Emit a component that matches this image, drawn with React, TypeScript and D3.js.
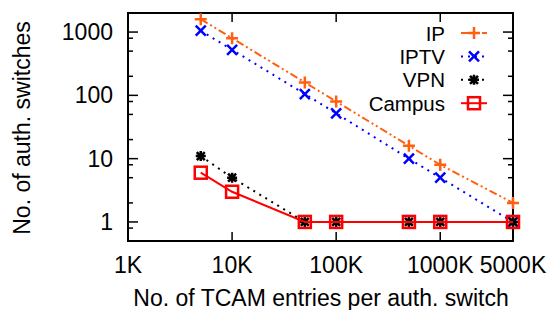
import React, { useEffect, useRef } from "react";
import * as d3 from "d3";

const entries = [5e3, 1e4, 5e4, 1e5, 5e5, 1e6, 5e6];
const ipValues = [1600, 800, 160, 80, 16, 8, 2];
const iptvValues = [1050, 525, 105, 52, 10, 5, 1];
const vpnValues = [11, 5, 1, 1, 1, 1, 1];
const campusValues = [6, 3, 1, 1, 1, 1, 1];
const seriesNames = ["IP", "IPTV", "VPN", "Campus"];
const xTicks = [1e3, 1e4, 1e5, 1e6, 5e6];
const xTickLabels = ["1K", "10K", "100K", "1000K", "5000K"];
const yTicks = [1, 10, 100, 1000];

const App = () => {
  const ref = useRef<SVGSVGElement>(null);

  useEffect(() => {
    const width = 548;
    const height = 310;
    const left = 128;
    const right = 513;
    const top = 13;
    const bottom = 241;
    const font = "'Liberation Sans', Arial, sans-serif";
    const fs = "23px";

    const svg = d3.select(ref.current);
    svg.selectAll("*").remove();
    svg.attr("width", width).attr("height", height);

    const x = d3.scaleLog().domain([1e3, 5e6]).range([left, right]);
    const y = d3.scaleLog().domain([0.5, 2000]).range([bottom, top]);

    const g = svg.append("g");

    // y ticks, major and minor (2, 5, 8), mirrored on the right
    yTicks.forEach((v) => {
      g.append("line").attr("x1", left).attr("x2", left + 10)
        .attr("y1", y(v)).attr("y2", y(v)).attr("stroke", "#000").attr("stroke-width", 1.5);
      g.append("line").attr("x1", right).attr("x2", right - 10)
        .attr("y1", y(v)).attr("y2", y(v)).attr("stroke", "#000").attr("stroke-width", 1.5);
      g.append("text")
        .attr("x", left - 15).attr("y", y(v) + 8)
        .attr("text-anchor", "end")
        .style("font-family", font).style("font-size", fs)
        .text(String(v));
    });
    const minors: number[] = [];
    [0.1, 1, 10, 100, 1000].forEach((d) => [2, 5, 8].forEach((m) => {
      const v = d * m;
      if (v >= 0.5 && v <= 2000) minors.push(v);
    }));
    minors.forEach((v) => {
      g.append("line").attr("x1", left).attr("x2", left + 5)
        .attr("y1", y(v)).attr("y2", y(v)).attr("stroke", "#000").attr("stroke-width", 1.5);
      g.append("line").attr("x1", right).attr("x2", right - 5)
        .attr("y1", y(v)).attr("y2", y(v)).attr("stroke", "#000").attr("stroke-width", 1.5);
    });

    // x ticks, mirrored on top
    xTicks.forEach((v, i) => {
      g.append("line").attr("x1", x(v)).attr("x2", x(v))
        .attr("y1", bottom).attr("y2", bottom - 9).attr("stroke", "#000").attr("stroke-width", 1.5);
      g.append("line").attr("x1", x(v)).attr("x2", x(v))
        .attr("y1", top).attr("y2", top + 9).attr("stroke", "#000").attr("stroke-width", 1.5);
      g.append("text")
        .attr("x", x(v)).attr("y", 273)
        .attr("text-anchor", "middle")
        .style("font-family", font).style("font-size", fs)
        .text(xTickLabels[i]);
    });

    // frame
    g.append("rect")
      .attr("x", left).attr("y", top)
      .attr("width", right - left).attr("height", bottom - top)
      .attr("fill", "none").attr("stroke", "#000").attr("stroke-width", 2);

    // axis titles
    svg.append("text")
      .attr("x", 321).attr("y", 306)
      .attr("text-anchor", "middle")
      .style("font-family", font).style("font-size", fs)
      .text("No. of TCAM entries per auth. switch");
    svg.append("text")
      .attr("transform", `translate(30, 128) rotate(-90)`)
      .attr("text-anchor", "middle")
      .style("font-family", font).style("font-size", fs)
      .text("No. of auth. switches");

    const markers: Record<string, (s: any, cx: number, cy: number, c: string) => void> = {
      plus: (s, cx, cy, c) => {
        s.append("path").attr("d", `M${cx - 6},${cy}H${cx + 6}M${cx},${cy - 6}V${cy + 6}`)
          .attr("stroke", c).attr("stroke-width", 2.5).attr("fill", "none");
      },
      cross: (s, cx, cy, c) => {
        s.append("path").attr("d", `M${cx - 5},${cy - 5}L${cx + 5},${cy + 5}M${cx - 5},${cy + 5}L${cx + 5},${cy - 5}`)
          .attr("stroke", c).attr("stroke-width", 2.5).attr("fill", "none");
      },
      star: (s, cx, cy, c) => {
        s.append("path").attr("d", `M${cx - 5},${cy}H${cx + 5}M${cx},${cy - 5}V${cy + 5}M${cx - 4},${cy - 4}L${cx + 4},${cy + 4}M${cx - 4},${cy + 4}L${cx + 4},${cy - 4}`)
          .attr("stroke", c).attr("stroke-width", 2.5).attr("fill", "none");
      },
      square: (s, cx, cy, c) => {
        s.append("rect").attr("x", cx - 6).attr("y", cy - 6).attr("width", 12).attr("height", 12)
          .attr("stroke", c).attr("stroke-width", 2.5).attr("fill", "none");
      },
    };

    const series = [
      { values: ipValues, color: "#ff6010", dash: "8,3,2,3,2,3", marker: "plus" },
      { values: iptvValues, color: "#0000ff", dash: "2,5", marker: "cross" },
      { values: vpnValues, color: "#000000", dash: "2,5", marker: "star" },
      { values: campusValues, color: "#ff0000", dash: null, marker: "square" },
    ];

    const line = d3.line<number>()
      .x((_, i) => x(entries[i]))
      .y((d) => y(d));

    series.forEach((s, idx) => {
      g.append("path")
        .datum(s.values)
        .attr("d", line)
        .attr("fill", "none")
        .attr("stroke", s.color)
        .attr("stroke-width", 2)
        .attr("stroke-dasharray", s.dash);
      s.values.forEach((v, i) => markers[s.marker](g, x(entries[i]), y(v), s.color));

      // legend
      const ly = 33 + idx * 23.4;
      g.append("text")
        .attr("x", 445).attr("y", ly + 7.5)
        .attr("text-anchor", "end")
        .style("font-family", font).style("font-size", "20.5px")
        .text(seriesNames[idx]);
      g.append("line")
        .attr("x1", 461).attr("x2", 487).attr("y1", ly).attr("y2", ly)
        .attr("stroke", s.color).attr("stroke-width", 2)
        .attr("stroke-dasharray", s.dash);
      markers[s.marker](g, 474, ly, s.color);
    });
  }, []);

  return (
    <svg ref={ref} style={{ position: "absolute", left: 0, top: 0, background: "#fff" }}></svg>
  );
};

export default App;
